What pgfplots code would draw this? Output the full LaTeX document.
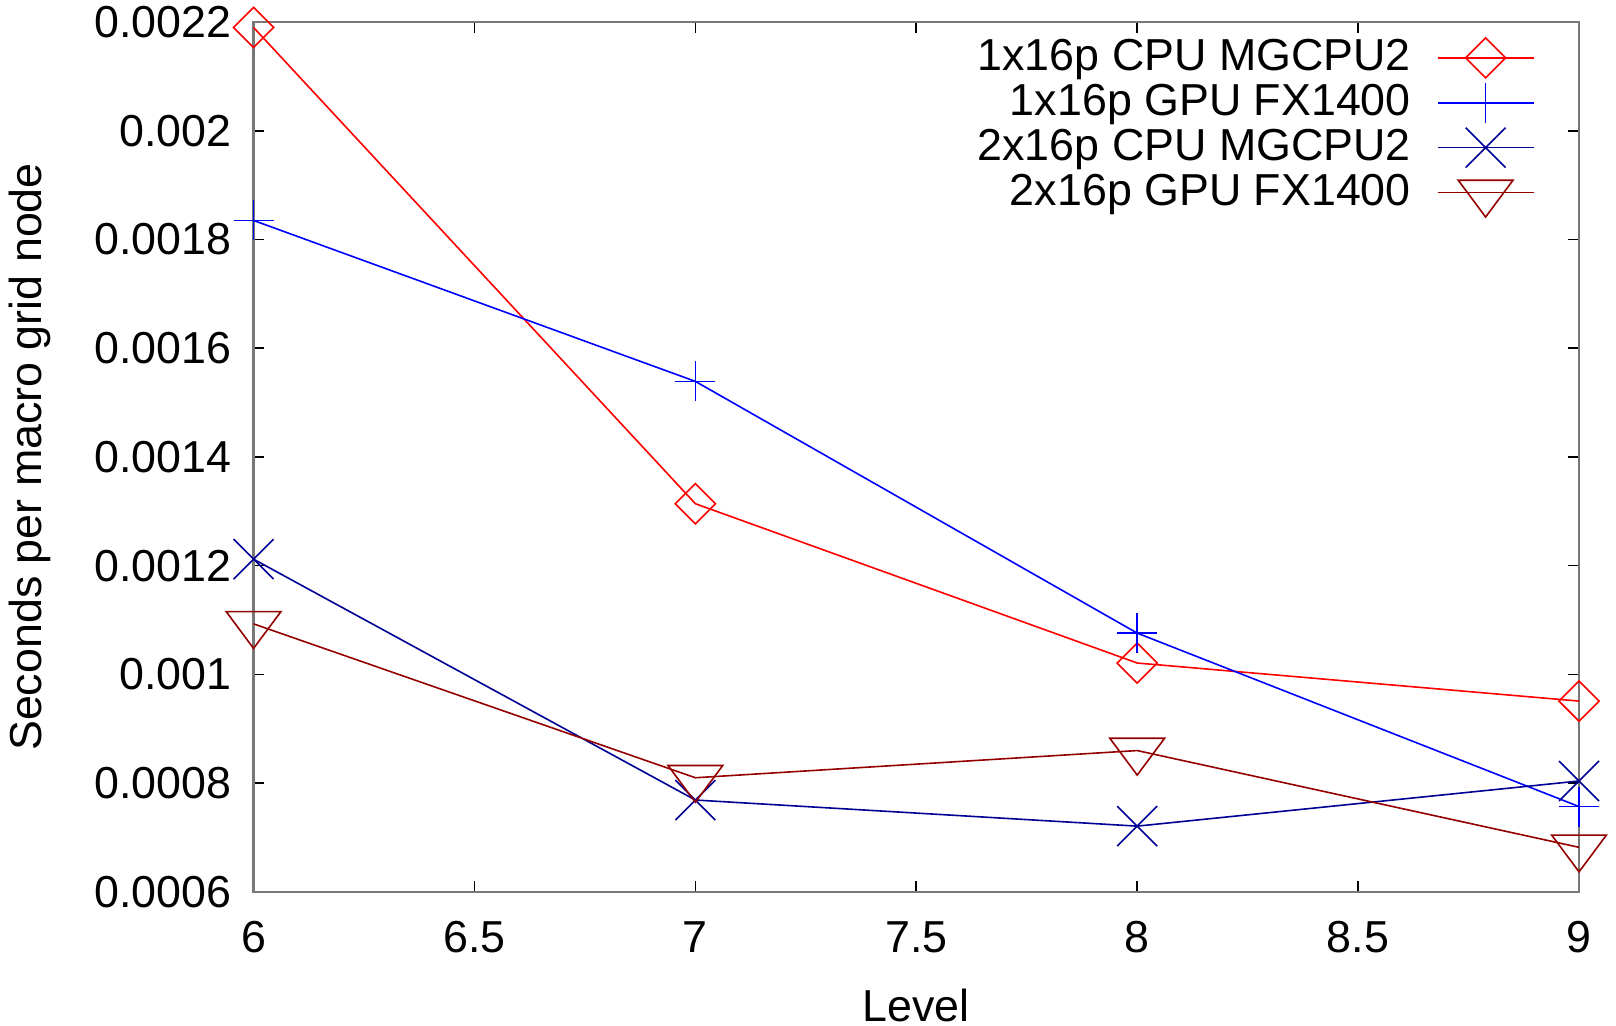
\documentclass[border=0pt]{standalone}
\usepackage{pgfplots}
\pgfplotsset{compat=1.18}
\usepackage{fontspec}
\setmainfont{Liberation Sans}

\definecolor{gpred}{RGB}{255,0,0}
\definecolor{gpblue}{RGB}{0,0,255}
\definecolor{gpnavy}{RGB}{0,0,148}
\definecolor{gpdarkred}{RGB}{148,0,0}
\definecolor{gpgray}{RGB}{120,120,120}

\begin{document}
\begin{tikzpicture}
\begin{axis}[
  scale only axis,
  width=331.4pt, height=217.5pt,
  font=\fontsize{11.2}{13.5}\selectfont,
  xmin=6, xmax=9, ymin=0.0006, ymax=0.0022,
  xtick={6,6.5,...,9},
  ytick={0.0006,0.0008,...,0.00221},
  scaled y ticks=false,
  /pgf/number format/assume math mode=true,
  yticklabel style={/pgf/number format/fixed, /pgf/number format/precision=4, inner ysep=0pt, xshift=-2pt},
  xticklabel style={/pgf/number format/fixed, /pgf/number format/precision=1, yshift=-3.8pt},
  tick align=inside,
  major tick length=2.7pt,
  tick style={black, line width=0.4pt},
  axis line style={gpgray, line width=0.6pt},
  every axis x label/.style={at={(rel axis cs:0.5,-0.13)}, anchor=center, inner sep=0pt},
  every axis y label/.style={at={(rel axis cs:-0.169,0.5)}, rotate=90, anchor=center, inner sep=0pt},
  xlabel={Level},
  ylabel={Seconds per macro grid node},
  clip=false,
  legend plot pos=right,
  legend cell align=right,
  legend image code/.code={\draw[mark repeat=2,mark phase=2] plot coordinates {(0pt,0pt) (12pt,0pt) (24pt,0pt)};},
  legend style={draw=none, fill=none, at={(rel axis cs:0.976,0.9995)}, anchor=north east,
    row sep=-2.1pt, column sep=4.5pt, font=\fontsize{11.2}{13.5}\selectfont},
]
% invisible frame giving the picture the reference's proportions
\path (rel axis cs:-0.1913,-0.154) rectangle (rel axis cs:1.0279,1.0253);

\addplot [line width=0.4pt, gpred, mark=square, mark size=3.55pt, mark options={solid, rotate=45}]
coordinates {(6,0.00219) (7,0.001314) (8,0.001021) (9,0.000951)};
\addlegendentry{1x16p CPU MGCPU2}
\addplot [line width=0.4pt, gpblue, mark=+, mark size=5pt, mark options={solid}]
coordinates {(6,0.001835) (7,0.001539) (8,0.001076) (9,0.000757)};
\addlegendentry{1x16p GPU FX1400}
\addplot [line width=0.4pt, gpnavy, mark=x, mark size=7.07pt, mark options={solid}]
coordinates {(6,0.001212) (7,0.000769) (8,0.000721) (9,0.000804)};
\addlegendentry{2x16p CPU MGCPU2}
\addplot [line width=0.4pt, gpdarkred, mark=triangle, mark size=7.9pt, mark options={solid, rotate=180, yscale=0.776}]
coordinates {(6,0.001093) (7,0.00081) (8,0.00086) (9,0.000682)};
\addlegendentry{2x16p GPU FX1400}
\end{axis}
\end{tikzpicture}
\end{document}
